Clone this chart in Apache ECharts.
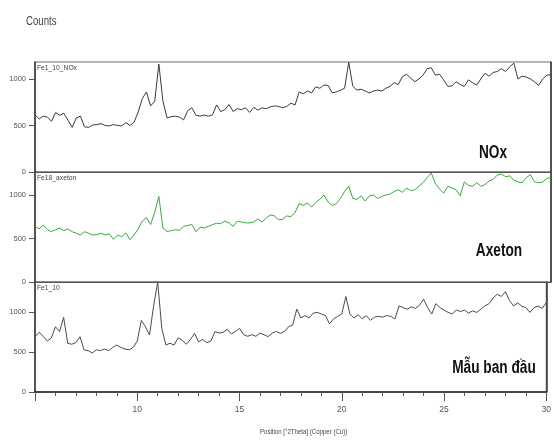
<!DOCTYPE html>
<html>
<head>
<meta charset="utf-8">
<script src="https://cdn.jsdelivr.net/npm/echarts@6/dist/echarts.min.js"></script>
<style>
  html, body { margin: 0; padding: 0; background: #fff; }
  #xrd { width: 554px; height: 441px; }
</style>
</head>
<body>
<div id="xrd"></div>
<script>
// 2theta positions (deg)
const angles = [
  5.0, 5.2, 5.4, 5.6, 5.8, 6.0, 6.2, 6.4, 6.6, 6.8,
  7.0, 7.2, 7.4, 7.6, 7.8, 8.0, 8.2, 8.4, 8.6, 8.8,
  9.0, 9.2, 9.4, 9.6, 9.8, 10.0, 10.2, 10.4, 10.6, 10.8,
  11.0, 11.2, 11.4, 11.6, 11.8, 12.0, 12.2, 12.4, 12.6, 12.8,
  13.0, 13.2, 13.4, 13.6, 13.8, 14.0, 14.2, 14.4, 14.6, 14.8,
  15.0, 15.2, 15.4, 15.6, 15.8, 16.0, 16.2, 16.4, 16.6, 16.8,
  17.0, 17.2, 17.4, 17.6, 17.8, 18.0, 18.2, 18.4, 18.6, 18.8,
  19.0, 19.2, 19.4, 19.6, 19.8, 20.0, 20.2, 20.4, 20.6, 20.8,
  21.0, 21.2, 21.4, 21.6, 21.8, 22.0, 22.2, 22.4, 22.6, 22.8,
  23.0, 23.2, 23.4, 23.6, 23.8, 24.0, 24.2, 24.4, 24.6, 24.8,
  25.0, 25.2, 25.4, 25.6, 25.8, 26.0, 26.2, 26.4, 26.6, 26.8,
  27.0, 27.2, 27.4, 27.6, 27.8, 28.0, 28.2, 28.4, 28.6, 28.8,
  29.0, 29.2, 29.4, 29.6, 29.8, 30.0
];

// Fe1_10_NOx
const noxCounts = [
  614, 570, 600, 590, 545, 640, 610, 630, 555, 480,
  580, 600, 485, 480, 505, 510, 520, 500, 495, 510,
  500, 495, 530, 500, 535, 645, 790, 860, 710, 760,
  1160, 760, 580, 595, 600, 590, 560, 660, 690, 610,
  600, 612, 600, 615, 720, 650, 670, 725, 650, 680,
  670, 690, 640, 695, 665, 690, 680, 700, 710, 705,
  690, 705, 740, 720, 860, 840, 870, 850, 915, 900,
  935, 930, 850, 860, 880, 900, 1180, 920, 880, 890,
  870, 850, 870, 880, 870, 900, 920, 960, 940, 1025,
  1050, 1010, 970, 1000, 1040, 1110, 1120, 1040, 1050, 990,
  920, 925, 970, 940, 920, 990, 960, 935, 1000, 1060,
  1030, 1070, 1080, 1110, 1080, 1130, 1170, 1000, 1030, 1020,
  1000, 970, 930, 1000, 1040, 1045
];

// Fe18_axeton
const axetonCounts = [
  640, 610, 655, 600, 580, 600, 620, 590, 610, 578,
  560, 540, 578, 560, 540, 545, 560, 540, 555, 490,
  540, 520, 565, 486, 540, 610, 700, 740, 660, 800,
  984, 620, 580, 590, 600, 595, 640, 650, 660, 578,
  630, 620, 640, 660, 675, 670, 700, 680, 640, 700,
  690, 680, 680, 690, 725, 690, 735, 770, 760, 715,
  720, 760, 750, 800, 900, 880, 910, 860, 915, 950,
  1000, 920, 880, 900, 960, 1040, 1100, 960, 950, 990,
  930, 990, 1000, 960, 985, 1000, 1010, 1040, 1060, 1030,
  1080, 1050, 1060, 1100, 1140, 1200, 1253, 1130, 1070, 1020,
  1100, 1080, 1060, 990, 1150, 1110, 1100, 1140, 1100, 1120,
  1160, 1180, 1230, 1240, 1210, 1220, 1170, 1150, 1140, 1200,
  1233, 1150, 1140, 1150, 1190, 1200
];

// Fe1_10 (mau ban dau)
const baseCounts = [
  695, 750, 700, 640, 680, 820, 760, 937, 612, 600,
  620, 695, 529, 520, 490, 530, 520, 540, 520, 560,
  590, 560, 540, 529, 560, 640, 900, 820, 716, 1083,
  1380, 800, 591, 612, 590, 680, 650, 600, 660, 737,
  630, 660, 620, 640, 758, 740, 750, 787, 730, 760,
  800, 720, 700, 720, 700, 740, 720, 695, 740, 760,
  737, 760, 820, 840, 1042, 930, 960, 930, 990, 1000,
  980, 960, 856, 920, 950, 980, 1200, 979, 930, 970,
  920, 960, 900, 940, 950, 940, 960, 950, 917, 1083,
  1060, 1040, 1070, 1050, 1090, 1166, 1060, 979, 1110, 1060,
  1030, 1000, 980, 1030, 1010, 1030, 990, 1020, 1000, 1040,
  1083, 1110, 1180, 1229, 1200, 1260, 1150, 1080, 1120, 1080,
  1060, 1000, 1060, 1080, 1050, 1124
];

const sampleNames = ['Fe1_10_NOx', 'Fe18_axeton', 'Fe1_10'];
const sampleLabels = ['NOx', 'Axeton', 'Mẫu ban đầu'];
const yMaxes = [1182, 1264, 1382];
const yTicks = [0, 500, 1000];

const font = "'Liberation Sans', Arial, sans-serif";
const lineColors = ['#3a3a3a', '#3aa83a', '#4a4a4a'];
const seriesData = [noxCounts, axetonCounts, baseCounts];
const panelTops = [62, 172, 282];

const chart = echarts.init(document.getElementById('xrd'));

const grids = panelTops.map(top => ({
  left: 35, right: 3, top: top, height: 110,
  show: true, borderColor: '#6a6a6a', borderWidth: 1,
  backgroundColor: 'transparent'
}));

const xAxes = panelTops.map((_, i) => {
  const last = i === panelTops.length - 1;
  return {
    type: 'value', gridIndex: i, min: 5, max: 30,
    interval: 5,
    axisLine: { show: true, lineStyle: { color: last ? '#222' : '#555', width: last ? 1.5 : 1 } },
    axisTick: { show: last, length: 9, lineStyle: { color: '#555' } },
    minorTick: { show: last, splitNumber: 5, length: 4, lineStyle: { color: '#555' } },
    axisLabel: {
      show: last, showMinLabel: false, margin: 13,
      fontFamily: font, fontSize: 8.5, color: '#555'
    },
    splitLine: { show: false },
    minorSplitLine: { show: false }
  };
});

const yAxes = panelTops.map((_, i) => ({
  type: 'value', gridIndex: i, min: 0, max: yMaxes[i],
  axisLine: { show: true, lineStyle: { color: '#333', width: 1.5 } },
  axisTick: { show: true, length: 6, customValues: yTicks, lineStyle: { color: '#555' } },
  axisLabel: {
    customValues: yTicks, margin: 9,
    formatter: v => String(v),
    fontFamily: font, fontSize: 7.5, color: '#555'
  },
  splitLine: { show: false }
}));
// darker right-hand frame edge
panelTops.forEach((_, i) => {
  yAxes.push({
    type: 'value', gridIndex: i, position: 'right', min: 0, max: yMaxes[i],
    axisLine: { show: true, lineStyle: { color: '#333', width: 1.5 } },
    axisTick: { show: false }, axisLabel: { show: false }, splitLine: { show: false }
  });
});

const series = seriesData.map((counts, i) => ({
  name: sampleNames[i],
  type: 'line',
  xAxisIndex: i, yAxisIndex: i,
  data: angles.map((a, k) => [a, counts[k]]),
  showSymbol: false,
  lineStyle: { color: lineColors[i], width: 1 },
  clip: false
}));

const labelPos = [
  { x: 493, y: 153 },
  { x: 499, y: 251 },
  { x: 494, y: 368 }
];

// condensed look: squeeze text horizontally
const squeezed = (x, y, text, size, fill, scaleX, extra) => ({
  type: 'text', x: x, y: y, scaleX: scaleX,
  style: Object.assign({ text: text, fontFamily: font, fontSize: size, fill: fill }, extra || {})
});

const graphics = [
  squeezed(26, 15, 'Counts', 13, '#444', 0.74),
  squeezed(260, 428, 'Position [°2Theta] (Copper (Cu))', 8, '#444', 0.76)
];
sampleNames.forEach((name, i) => {
  graphics.push(squeezed(37, panelTops[i] + 2, name, 8, '#444', 0.84));
  graphics.push(squeezed(labelPos[i].x, labelPos[i].y, sampleLabels[i], 18, '#111', 0.76,
    { fontWeight: 'bold', align: 'center', verticalAlign: 'middle' }));
});

chart.setOption({
  animation: false,
  grid: grids,
  xAxis: xAxes,
  yAxis: yAxes,
  series: series,
  graphic: graphics
});
</script>
</body>
</html>
